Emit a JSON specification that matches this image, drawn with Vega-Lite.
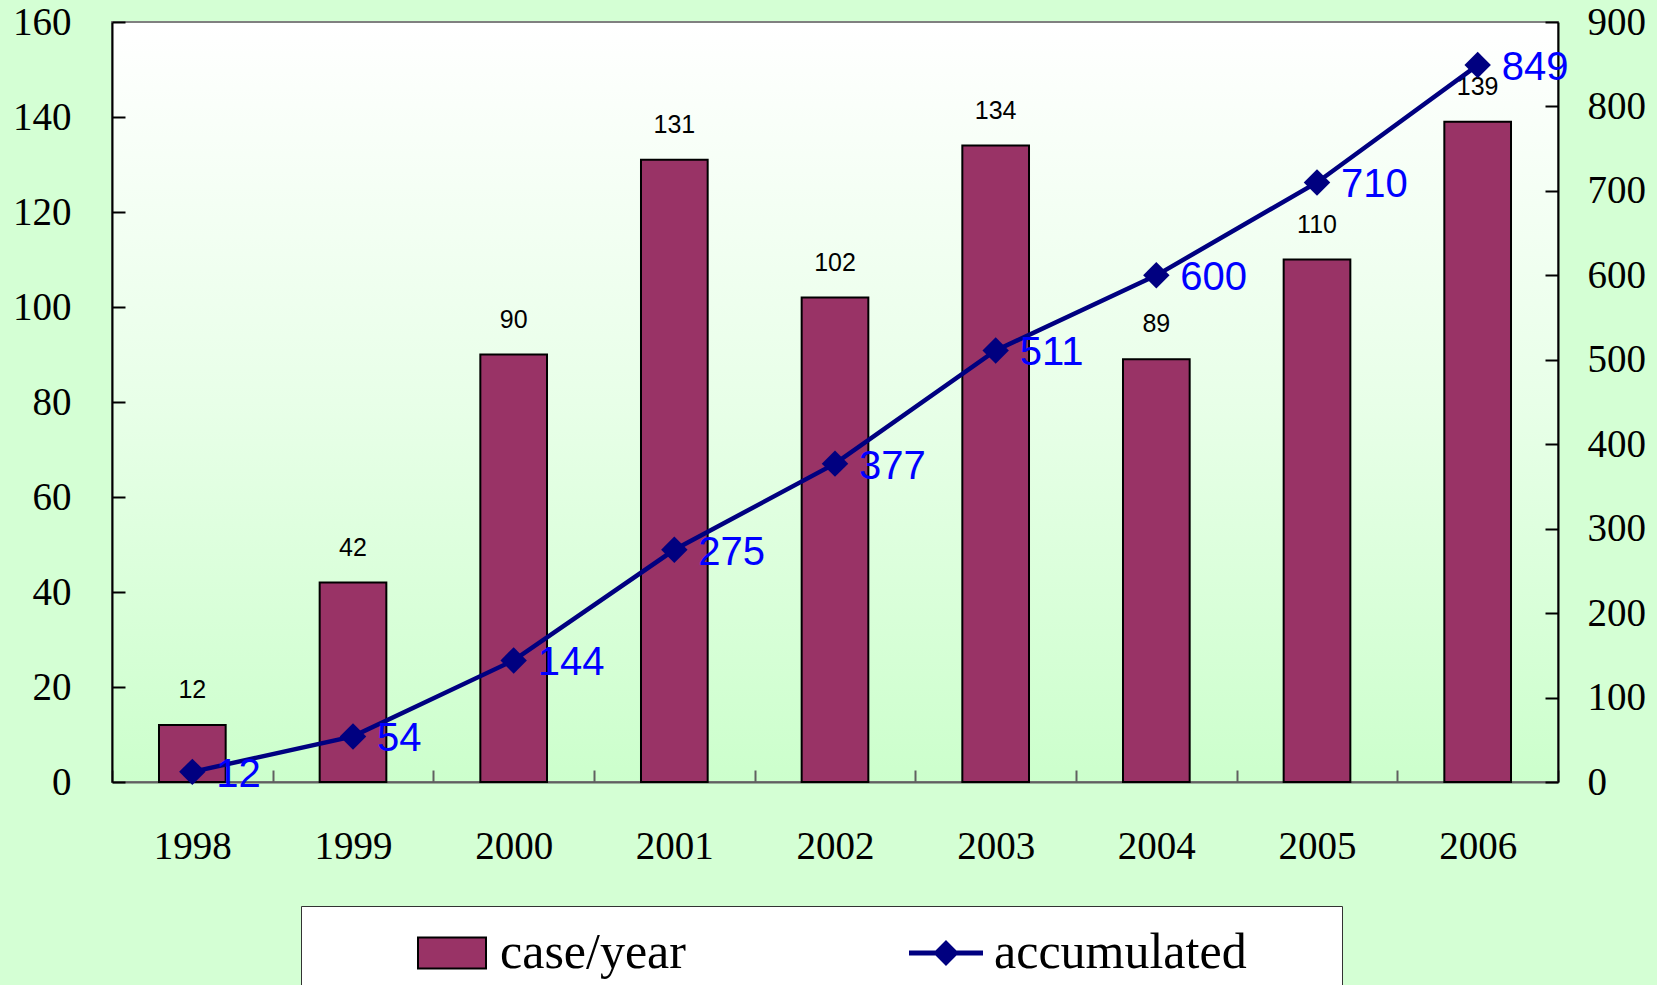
{
  "$schema": "https://vega.github.io/schema/vega-lite/v6.json",
  "width": 1446,
  "height": 760,
  "autosize": {"type": "none"},
  "padding": {"left": 112, "top": 22, "right": 99, "bottom": 203},
  "background": "#d4ffd4",
  "view": {
    "stroke": "#808080",
    "strokeWidth": 2,
    "fill": {"gradient": "linear", "x1": 0, "y1": 0, "x2": 0, "y2": 1,
      "stops": [{"offset": 0, "color": "#ffffff"}, {"offset": 0.5, "color": "#e8ffe8"}, {"offset": 1, "color": "#ccffcc"}]}
  },
  "data": {"values": [
    {"year": "1998", "cases": 12, "accumulated": 12},
    {"year": "1999", "cases": 42, "accumulated": 54},
    {"year": "2000", "cases": 90, "accumulated": 144},
    {"year": "2001", "cases": 131, "accumulated": 275},
    {"year": "2002", "cases": 102, "accumulated": 377},
    {"year": "2003", "cases": 134, "accumulated": 511},
    {"year": "2004", "cases": 89, "accumulated": 600},
    {"year": "2005", "cases": 110, "accumulated": 710},
    {"year": "2006", "cases": 139, "accumulated": 849}
  ]},
  "encoding": {
    "x": {"field": "year", "type": "ordinal",
      "scale": {"paddingInner": 0, "paddingOuter": 0},
      "axis": {"title": null, "orient": "bottom", "labelAngle": 0, "labelFont": "Liberation Serif", "labelFontSize": 39, "labelColor": "black",
        "labelPadding": 57, "tickSize": -12, "tickBand": "extent", "tickColor": "#606060", "tickWidth": 2,
        "domainColor": "#606060", "domainWidth": 2, "grid": false}}
  },
  "layer": [
    {
      "encoding": {
        "y": {"field": "cases", "type": "quantitative", "scale": {"domain": [0, 160], "nice": false},
          "axis": {"orient": "left", "title": null, "values": [0, 20, 40, 60, 80, 100, 120, 140, 160],
            "labelFont": "Liberation Serif", "labelFontSize": 39, "labelColor": "black", "tickSize": -13, "labelPadding": 54,
            "tickColor": "black", "tickWidth": 2, "domainColor": "black", "domainWidth": 2, "grid": false}}
      },
      "layer": [
        {
          "mark": {"type": "bar", "stroke": "black", "strokeWidth": 2, "width": {"band": 0.415}},
          "encoding": {
            "color": {"datum": "case/year", "type": "nominal",
              "scale": {"domain": ["case/year", "accumulated"], "range": ["#993366", "#000080"]},
              "legend": {
                "orient": "none", "legendX": 189, "legendY": 884, "direction": "horizontal", "columns": 2, "columnPadding": 220,
                "title": "\u00a0", "titleOrient": "left", "titleFontSize": 10, "titlePadding": 104,
                "padding": 21, "fillColor": "white", "strokeColor": "#333333",
                "symbolSize": 2500, "labelOffset": 22, "labelFont": "Liberation Serif", "labelFontSize": 50, "labelColor": "black", "labelLimit": 1000,
                "labelExpr": "datum.label == 'accumulated' ? 'accumulated\u2800\u2800' : datum.label",
                "symbolType": {"expr": "datum.value == 'accumulated' ? 'M-1.44,-0.06H1.44V0.06H-1.44Z M0,-0.46L0.46,0L0,0.46L-0.46,0Z' : 'M-1.36,-0.62H1.36V0.62H-1.36Z'"},
                "symbolStrokeColor": {"expr": "datum.value == 'accumulated' ? '#000080' : '#000000'"},
                "symbolStrokeWidth": 2,
                "symbolOpacity": 1
              }}
          }
        },
        {
          "mark": {"type": "text", "font": "Liberation Sans", "fontSize": 25, "dy": -27, "baseline": "alphabetic", "color": "black"},
          "encoding": {"text": {"field": "cases"}}
        }
      ]
    },
    {
      "encoding": {
        "y": {"field": "accumulated", "type": "quantitative", "scale": {"domain": [0, 900], "nice": false},
          "axis": {"orient": "right", "title": null, "values": [0, 100, 200, 300, 400, 500, 600, 700, 800, 900],
            "labelFont": "Liberation Serif", "labelFontSize": 39, "labelColor": "black", "tickSize": -13, "labelPadding": 42,
            "tickColor": "black", "tickWidth": 2, "domainColor": "black", "domainWidth": 2, "grid": false}}
      },
      "layer": [
        {
          "mark": {"type": "line", "color": "#000080", "strokeWidth": 4.5, "point": {"shape": "diamond", "size": 700, "filled": true, "opacity": 1, "color": "#000080"}}
        },
        {
          "mark": {"type": "text", "font": "Liberation Sans", "fontSize": 40, "dx": 24, "dy": 3, "align": "left", "baseline": "middle", "color": "#0000ff"},
          "encoding": {"text": {"field": "accumulated"}}
        }
      ]
    }
  ],
  "resolve": {"scale": {"y": "independent"}}
}
